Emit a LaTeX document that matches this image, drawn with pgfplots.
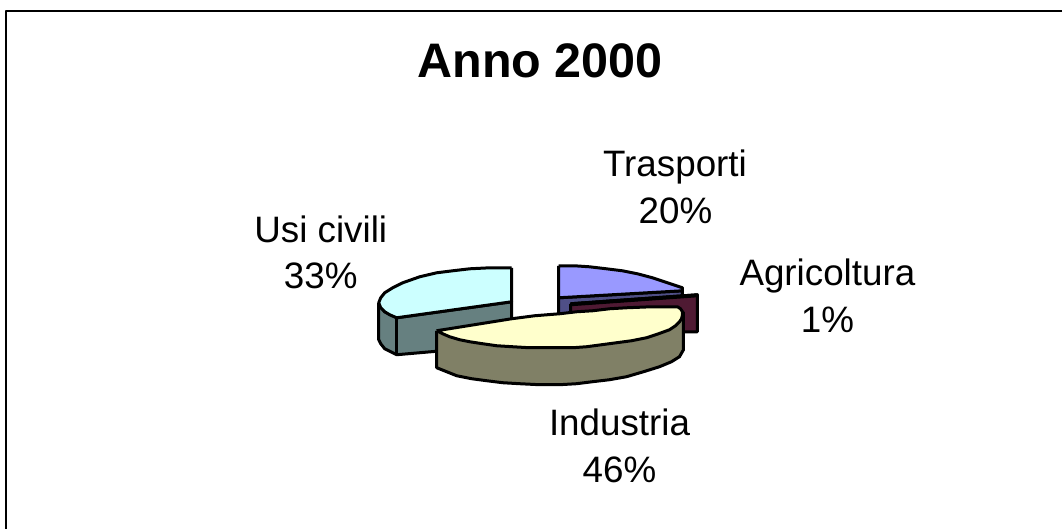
\documentclass[border=0pt]{standalone}
\usepackage{pgfplots}
\pgfplotsset{compat=1.18}
\usepackage{fontspec}
\setmainfont{Liberation Sans}
\definecolor{cBlue}{HTML}{9999FF}
\definecolor{cBlueS}{HTML}{4F4F87}
\definecolor{cMar}{HTML}{4F1A33}
\definecolor{cCream}{HTML}{FFFFCC}
\definecolor{cOlive}{HTML}{808066}
\definecolor{cCyan}{HTML}{CCFFFF}
\definecolor{cCyanS}{HTML}{668080}
\begin{document}
\begin{tikzpicture}
\begin{axis}[
  scale only axis, width=1063pt, height=529pt,
  xmin=0, xmax=1063, ymin=0, ymax=529, y dir=reverse,
  axis lines=none, clip=false,
  every axis plot/.append style={line join=round, mark=none},
]
% page extent
\path (axis cs:0,0) rectangle (axis cs:1063,529);
% frame: only the top and left edges fall inside the picture
\addplot[black, line width=1.6pt] coordinates {(1063,11)(6,11)(6,529)};
% blue side
\addplot[draw=black, fill=cBlueS, line width=3pt] coordinates {(559,298)(683,291)(683,325)(559,325)(559,298)};
% blue top
\addplot[draw=black, fill=cBlue, line width=3pt] coordinates {(559,266)(575,266)(590,267)(607,269)(623,271)(638,274)(653,278)(668,283)(683,288)(683,291)(559,298)(559,266)};
% maroon
\addplot[draw=black, fill=cMar, line width=3pt] coordinates {(571,304)(698,295)(698,332)(571,332)(571,304)};
\addplot[draw=black, fill=black, line width=1pt] coordinates {(571,303)(698,294)(698,297)(571,306)(571,303)};
% cyan side
\addplot[draw=black, fill=cCyanS, line width=3pt] coordinates {(379,303)(385,312)(397,318)(512,302)(512,345)(397,355)(385,349)(381,344)(379,340)(379,303)};
\addplot[draw=black, line width=3pt] coordinates {(397,318)(397,355)};
% cyan top
\addplot[draw=black, fill=cCyan, line width=3pt] coordinates {(512,268)(490,268)(470,269)(453,271)(437,273)(420,277)(403,283)(393,288)(385,293)(381,298)(379,303)(381,308)(385,312)(390,315)(397,318)(512,302)(512,268)};
% olive side
\addplot[draw=black, fill=cOlive, line width=3pt] coordinates {(437,331)(437,368)(447,372)(457,376)(472,379)(487,381)(503,383)(520,384)(540,385)(560,385)(577,384)(593,382)(610,380)(627,377)(644,372)(660,367)(672,362)(680,357)(684,350)(684,313)(437,331)};
% cream top
\addplot[draw=black, fill=cCream, line width=3pt] coordinates {(437,331)(512,319)(535,316)(560,314)(577,312)(593,311)(610,309)(627,308)(652,307)(678,307)(681,309)(683,312)(683,315)(682,319)(680,322)(676,326)(670,330)(659,334)(647,338)(632,341)(617,343)(602,345)(587,347)(573,348)(560,348)(545,348)(530,348)(513,347)(497,346)(483,344)(470,342)(460,340)(450,337)(443,334)(437,331)};
% labels
\node[anchor=base, font=\fontsize{48.5}{56}\selectfont\bfseries] at (axis cs:540.5,78) {Anno 2000};
\node[anchor=base, font=\fontsize{36.8}{44}\selectfont] at (axis cs:675.5,177) {Trasporti};
\node[anchor=base, font=\fontsize{36.8}{44}\selectfont] at (axis cs:676,224) {20\%};
\node[anchor=base, font=\fontsize{36.8}{44}\selectfont] at (axis cs:321,243) {Usi civili};
\node[anchor=base, font=\fontsize{36.8}{44}\selectfont] at (axis cs:321,289) {33\%};
\node[anchor=base, font=\fontsize{36.8}{44}\selectfont] at (axis cs:828,286) {Agricoltura};
\node[anchor=base, font=\fontsize{36.8}{44}\selectfont] at (axis cs:828,333) {1\%};
\node[anchor=base, font=\fontsize{36.8}{44}\selectfont] at (axis cs:620,436) {Industria};
\node[anchor=base, font=\fontsize{36.8}{44}\selectfont] at (axis cs:620,483) {46\%};
\end{axis}
\end{tikzpicture}
\end{document}
